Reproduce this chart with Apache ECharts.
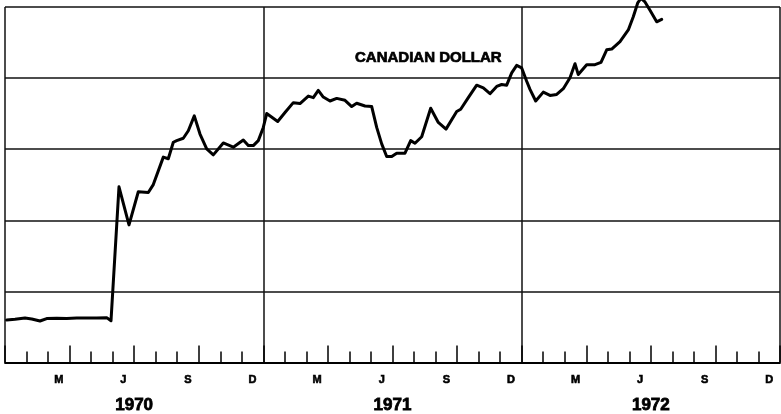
<!DOCTYPE html>
<html>
<head>
<meta charset="utf-8">
<script src="https://cdn.jsdelivr.net/npm/echarts@6/dist/echarts.min.js"></script>
<style>
html,body{margin:0;padding:0;background:#fff;}
#chart{width:781px;height:414px;}
</style>
</head>
<body>
<div id="chart"></div>
<script>
// Time position in months since Jan 1970 (0 = start of 1970)
const months = [0.079,0.465,0.929,1.240,1.626,1.937,2.402,2.866,3.331,3.795,4.260,4.724,4.924,
  5.295,5.760,6.192,6.656,6.889,7.354,7.585,7.818,7.976,8.282,8.515,8.793,9.058,9.369,9.676,
  10.140,10.605,11.069,11.302,11.534,11.766,11.998,12.156,12.667,13.006,13.392,13.703,14.089,
  14.321,14.553,14.785,15.097,15.408,15.793,16.105,16.337,16.723,17.034,17.266,17.498,17.730,
  17.963,18.195,18.580,18.845,19.045,19.356,19.774,20.127,20.485,20.982,21.168,21.521,21.911,
  22.218,22.529,22.840,23.072,23.304,23.537,23.769,24.001,24.233,24.387,24.652,25.005,25.316,
  25.627,25.934,26.245,26.477,26.630,27.020,27.406,27.685,27.950,28.182,28.568,28.953,29.185,
  29.390,29.543,29.729,29.961,30.272,30.504];
// Canadian dollar level (in grid units, bottom line = 0, top line = 5)
const rate = [0.599,0.609,0.627,0.613,0.585,0.619,0.623,0.619,0.627,0.627,0.627,0.632,0.588,
  2.471,1.936,2.402,2.392,2.503,2.889,2.866,3.098,3.121,3.154,3.260,3.469,3.214,3.005,2.921,
  3.088,3.029,3.130,3.051,3.051,3.121,3.307,3.502,3.391,3.516,3.655,3.642,3.747,
  3.725,3.827,3.734,3.678,3.715,3.688,3.600,3.646,3.608,3.600,3.307,3.075,2.898,
  2.898,2.945,2.945,3.121,3.084,3.176,3.576,3.377,3.283,3.530,3.562,3.725,3.901,
  3.864,3.781,3.883,3.910,3.901,4.073,4.179,4.143,3.956,3.841,3.678,3.803,3.757,
  3.771,3.851,4.004,4.203,4.050,4.189,4.189,4.221,4.398,4.408,4.514,4.677,4.862,
  5.057,5.122,5.071,4.955,4.792,4.826];
// Month letters under the axis (one per month, blank where unlabeled)
const monthLetters = ['','','M','','','J','','','S','','','D',
                      '','','M','','','J','','','S','','','D',
                      '','','M','','','J','','','S','','','D'];
const years = ['1970','1971','1972'];
const seriesName = 'CANADIAN DOLLAR';

const FONT = '"Liberation Sans", Arial, sans-serif';
const chart = echarts.init(document.getElementById('chart'), null, {renderer:'canvas'});
const lineData = months.map((m, i) => [m, rate[i]]);

chart.setOption({
  animation: false,
  backgroundColor: '#fff',
  title: {
    text: seriesName,
    left: 355, top: 50, padding: 0,
    textStyle: {fontFamily: FONT, fontSize: 15, fontWeight: 'bold', color: '#000',
      textBorderColor: '#000', textBorderWidth: 0.7}
  },
  grid: {left: 5, right: 1, top: 7, bottom: 48, containLabel: false},
  xAxis: [
    {
      type: 'value', min: 0, max: 36, interval: 3, position: 'bottom',
      axisLine: {onZero: false, lineStyle: {color: '#000', width: 1.8}},
      axisTick: {inside: true, length: 17, lineStyle: {color: '#000', width: 1.5}},
      minorTick: {show: true, splitNumber: 3, length: 11, lineStyle: {color: '#000', width: 1.5}},
      axisLabel: {show: false},
      splitLine: {show: false}
    },
    {
      type: 'value', min: 0, max: 36, interval: 12, position: 'bottom',
      axisLine: {show: false, onZero: false}, axisTick: {show: false}, axisLabel: {show: false},
      splitLine: {show: true, lineStyle: {color: '#111', width: 1.5}}
    },
    {
      type: 'category', data: monthLetters, position: 'bottom', boundaryGap: true,
      axisLine: {show: false, onZero: false}, axisTick: {show: false},
      axisLabel: {interval: 0, margin: 12, fontFamily: FONT, fontSize: 11, fontWeight: 'bold', color: '#000',
        textBorderColor: '#000', textBorderWidth: 0.6},
      splitLine: {show: false}
    },
    {
      type: 'category', data: years, position: 'bottom', boundaryGap: true,
      axisLine: {show: false, onZero: false}, axisTick: {show: false},
      axisLabel: {interval: 0, margin: 34, fontFamily: FONT, fontSize: 17, fontWeight: 'bold', color: '#000',
        textBorderColor: '#000', textBorderWidth: 0.8},
      splitLine: {show: false}
    }
  ],
  yAxis: {
    type: 'value', min: 0, max: 5, interval: 1,
    axisLine: {show: false}, axisTick: {show: false}, axisLabel: {show: false},
    splitLine: {show: true, lineStyle: {color: '#111', width: 1.5}}
  },
  series: [{
    name: seriesName,
    type: 'line',
    xAxisIndex: 0, yAxisIndex: 0,
    data: lineData,
    showSymbol: false,
    clip: false,
    lineStyle: {color: '#000', width: 3, join: 'round', cap: 'round'}
  }]
});
</script>
</body>
</html>
